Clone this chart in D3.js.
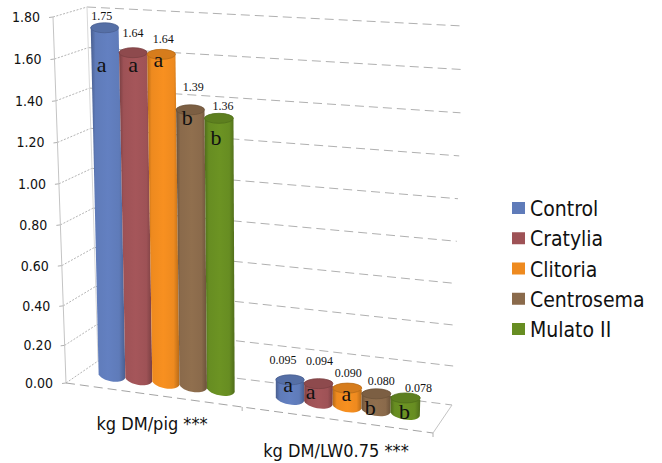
<!DOCTYPE html>
<html>
<head lang="en">
    <meta charset="UTF-8">
    <title>Feed intake</title>
    <script src="https://cdn.jsdelivr.net/npm/d3@7"></script>
    <style>
        body { margin: 0; background: #fff; }
        text { fill: #111; }
    </style>
</head>
<body>
<div id="tu1"></div>
<script>
    var groups = ['kg DM/pig ***', 'kg DM/LW0.75 ***'];
    var treatments = ['Control', 'Cratylia', 'Clitoria', 'Centrosema', 'Mulato II'];
    var pigValues = [1.75, 1.64, 1.64, 1.39, 1.36];
    var lwValues = [0.095, 0.094, 0.090, 0.080, 0.078];
    var pigLabels = ['1.75', '1.64', '1.64', '1.39', '1.36'];
    var lwLabels = ['0.095', '0.094', '0.090', '0.080', '0.078'];
    var pigLetters = ['a', 'a', 'a', 'b', 'b'];
    var lwLetters = ['a', 'a', 'a', 'b', 'b'];
    var ticks = [0, 0.2, 0.4, 0.6, 0.8, 1.0, 1.2, 1.4, 1.6, 1.8];

    var colors = ['#5f7bb9', '#9e5256', '#ee8a1f', '#8a6a4b', '#678d22'];

    // corners of the 3d box as they land on the page
    var floorFL = [66, 383], floorFR = [433, 433], floorBL = [98, 361], floorBR = [452, 405];
    var ceilFL = [53, 17], ceilFR = [447, 36], ceilBL = [87, 7], ceilBR = [463, 26];

    function lerp(a, b, t) {
        return [a[0] + (b[0] - a[0]) * t, a[1] + (b[1] - a[1]) * t];
    }
    // u along the floor, d into the depth, h up the wall
    function project(u, d, h) {
        var low = lerp(lerp(floorFL, floorFR, u), lerp(floorBL, floorBR, u), d);
        var high = lerp(lerp(ceilFL, ceilFR, u), lerp(ceilBL, ceilBR, u), d);
        return lerp(low, high, h);
    }
    // the bars spread a little toward the right, perspective
    function warp(u) {
        return u * (1 + 0.06 * u) / 1.06;
    }
    // leftmost bars lean less than the wall does
    function barPoint(u, h) {
        var p = project(u, 0.5, h);
        p[0] += Math.max(0, 3 - 8 * u) * h;
        return p;
    }

    var svg = d3.select('#tu1').append('svg').attr('width', 662).attr('height', 463);
    var defs = svg.append('defs');

    colors.forEach(function (c, i) {
        var g = defs.append('linearGradient').attr('id', 'bar' + i);
        var dark = d3.color(c).darker(0.75);
        g.append('stop').attr('offset', '0%').attr('stop-color', dark);
        g.append('stop').attr('offset', '14%').attr('stop-color', c);
        g.append('stop').attr('offset', '50%').attr('stop-color', d3.color(c).brighter(0.12));
        g.append('stop').attr('offset', '82%').attr('stop-color', c);
        g.append('stop').attr('offset', '100%').attr('stop-color', dark);
    });

    var wallScale = d3.scalePow().exponent(1.035).domain([0, 1.8]).range([0, 1]);
    var barScale = d3.scaleLinear().domain([0, 1.36, 1.8]).range([0, 0.733, 0.99]);
    var groupScale = d3.scaleBand().domain(groups).range([0, 0.989]).paddingInner(0.227).paddingOuter(0.097);
    var barScaleX = d3.scaleBand().domain(treatments).range([0, groupScale.bandwidth()]);

    var grid = svg.append('g').attr('fill', 'none');

    function seg(a, b, color, dash) {
        grid.append('line')
            .attr('x1', a[0]).attr('y1', a[1])
            .attr('x2', b[0]).attr('y2', b[1])
            .attr('stroke', color)
            .attr('stroke-width', 1)
            .attr('stroke-dasharray', dash);
    }

    ticks.forEach(function (t) {
        var h = wallScale(t);
        var front = project(0, 0, h), back = project(0, 1, h), right = project(1, 1, h);
        seg(front, back, '#b5b5b5', '2,1.5');
        seg(back, right, '#b0b0b0', '9,5');
        seg([front[0] - 4, front[1] + 0.5], front, '#b0b0b0', null);
    });
    seg(project(0, 0, 1), project(0, 0, 0), '#c4c4c4', null);
    seg(project(0, 1, 1), project(0, 1, 0), '#d8d8d8', null);
    seg(floorFL, floorFR, '#a4a4a4', '9,5');
    seg(floorFR, floorBR, '#c4c4c4', null);
    seg(floorFR, [floorFR[0], floorFR[1] + 4], '#b0b0b0', null);
    var mid = project(0.48, 0, 0);
    seg(mid, [mid[0], mid[1] + 4], '#b0b0b0', null);

    svg.append('g').selectAll('text').data(ticks).enter().append('text')
        .attr('x', function (d) { return project(0, 0, wallScale(d))[0] - 13; })
        .attr('y', function (d) { return project(0, 0, wallScale(d))[1] + 5; })
        .attr('text-anchor', 'end')
        .style('font', '14px "DejaVu Sans Condensed"')
        .text(function (d) { return d.toFixed(2); });

    // hand nudges for the labels, they were placed by hand on the original too
    var valueNudge = [
        [[-3, -12], [0, -20], [2, -15], [3, -23], [4, -12]],
        [[-7, -20], [1, -23], [1, -15], [5, -13], [13, -10]]
    ];
    var letterNudge = [
        [[-3, 39], [0, 14], [-3, 8], [-3, 10], [-3, 22]],
        [[-2, 7], [-8, 10], [-1, 8], [-6, 16], [-1, 16]]
    ];

    function drawGroup(name, gi, values, labels, letters) {
        var start = groupScale(name);
        var layer = svg.append('g');
        treatments.forEach(function (t, i) {
            var raw = start + barScaleX(t);
            var uL = warp(raw), uR = warp(raw + barScaleX.bandwidth()), u = (uL + uR) / 2;
            var h = barScale(values[i]);
            var botL = barPoint(uL, 0), botR = barPoint(uR, 0);
            var topL = barPoint(uL, h), topR = barPoint(uR, h);
            var top = barPoint(u, h);
            var rxB = (botR[0] - botL[0]) / 2, rxT = (topR[0] - topL[0]) / 2;
            var ryB = 5.5, ryT = 5;
            var side = d3.path();
            side.moveTo(topL[0], topL[1]);
            side.lineTo(botL[0], botL[1]);
            side.bezierCurveTo(botL[0] + rxB * 0.2, botL[1] + ryB * 1.33, botR[0] - rxB * 0.2, botR[1] + ryB * 1.33, botR[0], botR[1]);
            side.lineTo(topR[0], topR[1]);
            side.closePath();
            layer.append('path').attr('d', side.toString()).attr('fill', 'url(#bar' + i + ')');
            layer.append('ellipse')
                .attr('cx', top[0]).attr('cy', top[1])
                .attr('rx', rxT).attr('ry', ryT)
                .attr('fill', d3.color(colors[i]).darker(0.3))
                .attr('stroke', d3.color(colors[i]).darker(0.7))
                .attr('stroke-width', 0.8);
            var vn = valueNudge[gi][i], ln = letterNudge[gi][i];
            layer.append('text')
                .attr('x', top[0] + vn[0]).attr('y', top[1] + vn[1] + 4)
                .attr('text-anchor', 'middle')
                .style('font', '12px "Liberation Serif"')
                .text(labels[i]);
            layer.append('text')
                .attr('x', top[0] + ln[0]).attr('y', top[1] + ln[1] + 5)
                .attr('text-anchor', 'middle')
                .style('font', '22px "Liberation Serif"')
                .text(letters[i]);
        });
    }
    drawGroup(groups[0], 0, pigValues, pigLabels, pigLetters);
    drawGroup(groups[1], 1, lwValues, lwLabels, lwLetters);

    svg.append('text').attr('x', 152).attr('y', 430)
        .attr('text-anchor', 'middle')
        .style('font', '18px "DejaVu Sans Condensed"')
        .text(groups[0]);
    svg.append('text').attr('x', 336).attr('y', 457)
        .attr('text-anchor', 'middle')
        .style('font', '18px "DejaVu Sans Condensed"')
        .text(groups[1]);

    var legendY = d3.scalePoint().domain(treatments).range([202, 323]);
    var legend = svg.append('g').selectAll('g').data(treatments).enter().append('g')
        .attr('transform', function (d) { return 'translate(512,' + legendY(d) + ')'; });
    legend.append('rect').attr('width', 13).attr('height', 12)
        .attr('fill', function (d, i) { return colors[i]; });
    legend.append('text').attr('x', 18).attr('y', 14)
        .style('font', '21px "DejaVu Sans Condensed"')
        .text(function (d) { return d; });
</script>
</body>
</html>
